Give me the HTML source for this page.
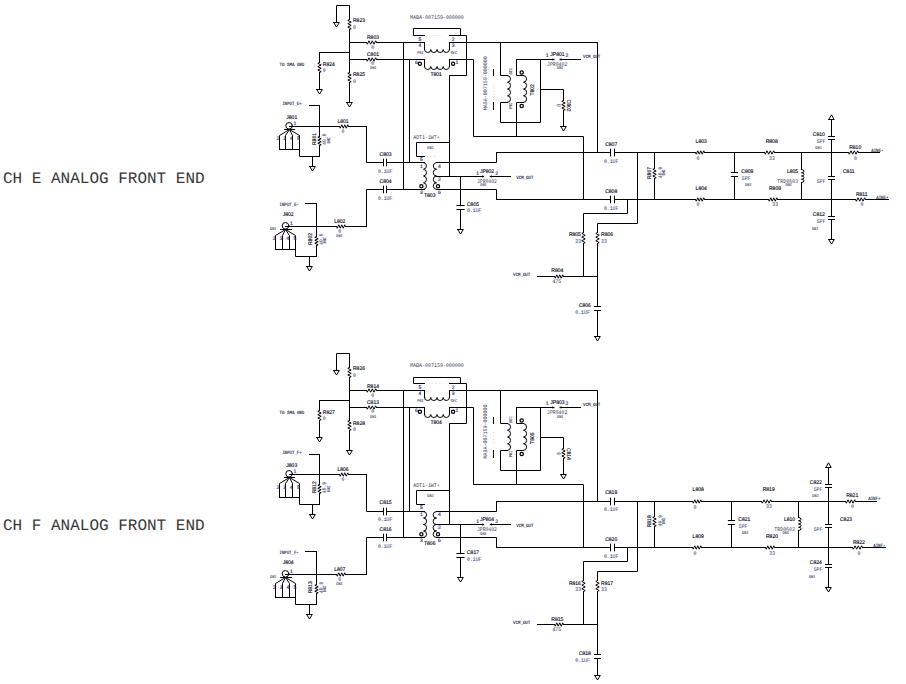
<!DOCTYPE html>
<html><head><meta charset="utf-8"><title>Analog Front End</title>
<style>
html,body{margin:0;padding:0;background:#fff;}
body{width:906px;height:684px;overflow:hidden;font-family:"Liberation Sans",sans-serif;}
svg{display:block;position:absolute;left:0;top:0;}
.w{fill:none;stroke:#000;stroke-width:1.0;stroke-linecap:square;stroke-linejoin:miter;}
.w circle{fill:none;}
.dd{stroke:#aab;stroke-width:0.6;stroke-dasharray:0.8 2.65;stroke-linecap:butt;}
text{font-family:"Liberation Sans",sans-serif;text-rendering:geometricPrecision;}
.lb{font-size:5.4px;fill:#0a0a24;stroke:#0a0a24;stroke-width:0.15px;}
.vl{font-family:"Liberation Mono",monospace;font-size:5.5px;fill:#445080;stroke:#445080;stroke-width:0.08px;}
.pt{font-family:"Liberation Mono",monospace;font-size:5.6px;fill:#3c4258;}
.dn{font-family:"Liberation Mono",monospace;font-size:4.2px;fill:#363c5c;stroke:#363c5c;stroke-width:0.1px;}
.nt{font-family:"Liberation Mono",monospace;font-size:4.7px;fill:#262e50;stroke:#262e50;stroke-width:0.15px;}
.pn{font-size:5.0px;fill:#1a2f78;stroke:#1a2f78;stroke-width:0.15px;}
.ttl{font-family:"Liberation Mono",monospace;font-size:16px;fill:#383838;}
</style></head><body>
<svg width="906" height="684" viewBox="0 0 906 684">
<rect width="906" height="684" fill="#fff"/>
<text x="3" y="183.4" class="ttl" textLength="201.6" lengthAdjust="spacing">CH E ANALOG FRONT END</text>
<text x="3" y="530.4" class="ttl" textLength="201.6" lengthAdjust="spacing">CH F ANALOG FRONT END</text>
<g class="w">
<path d="M336.50 22.50 L336.50 5.50 L349.50 5.50 L349.50 19.50 M333.70 22.50 L339.30 22.50 L336.50 27.00 L333.70 22.50 M349.50 19.50 L347.80 20.33 L351.20 22.00 L347.80 23.67 L351.20 25.33 L347.80 27.00 L351.20 28.67 L349.50 29.50 M349.50 29.50 L349.50 72.50 M349.50 72.50 L347.80 73.33 L351.20 75.00 L347.80 76.67 L351.20 78.33 L347.80 80.00 L351.20 81.67 L349.50 82.50 M349.50 82.50 L349.50 102.50 M346.70 102.50 L352.30 102.50 L349.50 107.00 L346.70 102.50 M349.50 42.50 L366.50 42.50 M366.50 42.50 L367.33 44.20 L369.00 40.80 L370.67 44.20 L372.33 40.80 L374.00 44.20 L375.67 40.80 L376.50 42.50 M376.50 42.50 L424.50 42.50 M319.50 52.50 L349.50 52.50 M319.50 52.50 L319.50 62.50 M319.50 62.50 L317.80 63.33 L321.20 65.00 L317.80 66.67 L321.20 68.33 L317.80 70.00 L321.20 71.67 L319.50 72.50 M319.50 72.50 L319.50 89.50 M316.70 89.50 L322.30 89.50 L319.50 94.00 L316.70 89.50 M349.50 59.50 L366.50 59.50 M366.50 59.50 L367.33 61.20 L369.00 57.80 L370.67 61.20 L372.33 57.80 L374.00 61.20 L375.67 57.80 L376.50 59.50 M376.50 59.50 L424.50 59.50 M309.50 105.50 L319.50 105.50 M319.50 105.50 L319.50 136.50 M319.50 136.50 L317.80 137.25 L321.20 138.75 L317.80 140.25 L321.20 141.75 L317.80 143.25 L321.20 144.75 L319.50 145.50 M319.50 145.50 L319.50 156.50 M289.50 126.50 L339.50 126.50 M339.50 126.50 L340.25 128.20 L341.75 124.80 L343.25 128.20 L344.75 124.80 L346.25 128.20 L347.75 124.80 L348.50 126.50 M348.50 126.50 L366.50 126.50 M284.50 129.50 L294.50 129.50 M289.50 129.50 L279.50 135.50 L279.50 149.50 M289.50 129.50 L285.50 135.50 L285.50 149.50 M289.50 129.50 L292.50 135.50 L292.50 149.50 M289.50 129.50 L299.50 135.50 L299.50 149.50 M279.50 149.50 L299.50 149.50 M299.50 149.50 L299.50 156.50 L319.50 156.50 M312.50 156.50 L312.50 166.50 M309.70 166.50 L315.30 166.50 L312.50 171.00 L309.70 166.50 M305.50 203.50 L316.50 203.50 M316.50 203.50 L316.50 236.50 M316.50 236.50 L314.80 237.25 L318.20 238.75 L314.80 240.25 L318.20 241.75 L314.80 243.25 L318.20 244.75 L316.50 245.50 M316.50 245.50 L316.50 256.50 M285.50 226.50 L336.50 226.50 M336.50 226.50 L337.25 228.20 L338.75 224.80 L340.25 228.20 L341.75 224.80 L343.25 228.20 L344.75 224.80 L345.50 226.50 M345.50 226.50 L366.50 226.50 M280.50 229.50 L291.50 229.50 M285.50 229.50 L275.50 235.50 L275.50 249.50 M285.50 229.50 L282.50 235.50 L282.50 249.50 M285.50 229.50 L289.50 235.50 L289.50 249.50 M285.50 229.50 L295.50 235.50 L295.50 249.50 M275.50 249.50 L295.50 249.50 M295.50 249.50 L295.50 256.50 L316.50 256.50 M309.50 256.50 L309.50 266.50 M306.70 266.50 L312.30 266.50 L309.50 271.00 L306.70 266.50 M366.50 126.50 L366.50 162.50 L383.50 162.50 M383.50 159.20 L383.50 165.80 M386.50 159.20 L386.50 165.80 M386.50 162.50 L424.50 162.50 M366.50 226.50 L366.50 189.50 L383.50 189.50 M383.50 186.20 L383.50 192.80 M386.50 186.20 L386.50 192.80 M386.50 189.50 L424.50 189.50 M403.50 42.50 L403.50 189.50 M409.50 59.50 L409.50 162.50 M424.50 35.50 L413.50 35.50 L413.50 28.50 L460.50 28.50 L460.50 35.50 M449.50 35.50 L466.50 35.50 L466.50 75.50 L449.50 75.50 L449.50 176.50 M424.50 42.50 L424.50 49.50 M424.50 49.50 A3.12 3.00 0 0 0 430.75 49.50 A3.12 3.00 0 0 0 437.00 49.50 A3.12 3.00 0 0 0 443.25 49.50 A3.12 3.00 0 0 0 449.50 49.50 M449.50 49.50 L449.50 42.50 M449.50 42.50 L597.50 42.50 M424.50 59.50 L424.50 66.50 M424.50 66.50 A3.12 3.00 0 0 0 430.75 66.50 A3.12 3.00 0 0 0 437.00 66.50 A3.12 3.00 0 0 0 443.25 66.50 A3.12 3.00 0 0 0 449.50 66.50 M449.50 66.50 L449.50 59.50 M449.50 59.50 L473.50 59.50 L473.50 136.50 L583.50 136.50 L583.50 199.50 M500.50 42.50 L500.50 75.50 L507.50 75.50 M507.50 75.50 A3.20 3.38 0 0 1 507.50 82.25 A3.20 3.38 0 0 1 507.50 89.00 A3.20 3.38 0 0 1 507.50 95.75 A3.20 3.38 0 0 1 507.50 102.50 M507.50 102.50 L500.50 102.50 L500.50 122.50 L540.50 122.50 L540.50 59.50 M516.50 59.50 L553.50 59.50 M560.50 59.50 L580.50 59.50 M553.90 59.50 L552.60 58.90 L552.60 60.10 L553.90 59.50 M560.10 59.50 L561.40 58.90 L561.40 60.10 L560.10 59.50 M516.50 59.50 L516.50 75.50 L523.50 75.50 M523.50 75.50 A3.30 3.38 0 0 1 523.50 82.25 A3.30 3.38 0 0 1 523.50 89.00 A3.30 3.38 0 0 1 523.50 95.75 A3.30 3.38 0 0 1 523.50 102.50 M523.50 102.50 L516.50 102.50 L516.50 136.50 M493.50 69.50 L493.50 75.50 M493.50 102.50 L493.50 109.50 M540.50 89.50 L563.50 89.50 L563.50 100.50 M563.50 100.50 L561.80 101.33 L565.20 103.00 L561.80 104.67 L565.20 106.33 L561.80 108.00 L565.20 109.67 L563.50 110.50 M563.50 110.50 L563.50 126.50 M560.70 126.50 L566.30 126.50 L563.50 131.00 L560.70 126.50 M597.50 42.50 L597.50 152.50 M449.50 142.50 L416.50 142.50 L416.50 156.50 L424.50 156.50 M423.50 162.50 A3.10 3.38 0 0 1 423.50 169.25 A3.10 3.38 0 0 1 423.50 176.00 A3.10 3.38 0 0 1 423.50 182.75 A3.10 3.38 0 0 1 423.50 189.50 M436.50 162.50 A3.40 3.38 0 0 0 436.50 169.25 A3.40 3.38 0 0 0 436.50 176.00 A3.40 3.38 0 0 0 436.50 182.75 A3.40 3.38 0 0 0 436.50 189.50 M436.50 162.50 L496.50 162.50 L496.50 152.50 M436.50 176.50 L483.50 176.50 M490.50 176.50 L510.50 176.50 M483.70 176.50 L482.40 175.90 L482.40 177.10 L483.70 176.50 M490.30 176.50 L491.60 175.90 L491.60 177.10 L490.30 176.50 M436.50 189.50 L496.50 189.50 L496.50 199.50 M460.50 176.50 L460.50 205.50 M456.90 205.50 L464.10 205.50 M456.90 209.50 L464.10 209.50 M460.50 209.50 L460.50 229.50 M457.70 229.50 L463.30 229.50 L460.50 234.00 L457.70 229.50 M496.50 152.50 L610.50 152.50 M610.50 149.20 L610.50 155.80 M614.50 149.20 L614.50 155.80 M614.50 152.50 L695.50 152.50 M695.50 152.50 L696.25 154.20 L697.75 150.80 L699.25 154.20 L700.75 150.80 L702.25 154.20 L703.75 150.80 L704.50 152.50 M704.50 152.50 L764.50 152.50 M764.50 152.50 L765.33 154.20 L767.00 150.80 L768.67 154.20 L770.33 150.80 L772.00 154.20 L773.67 150.80 L774.50 152.50 M774.50 152.50 L848.50 152.50 M848.50 152.50 L849.33 154.20 L851.00 150.80 L852.67 154.20 L854.33 150.80 L856.00 154.20 L857.67 150.80 L858.50 152.50 M858.50 152.50 L879.50 152.50 M496.50 199.50 L610.50 199.50 M610.50 196.20 L610.50 202.80 M614.50 196.20 L614.50 202.80 M614.50 199.50 L695.50 199.50 M695.50 199.50 L696.25 201.20 L697.75 197.80 L699.25 201.20 L700.75 197.80 L702.25 201.20 L703.75 197.80 L704.50 199.50 M704.50 199.50 L768.50 199.50 M768.50 199.50 L769.25 201.20 L770.75 197.80 L772.25 201.20 L773.75 197.80 L775.25 201.20 L776.75 197.80 L777.50 199.50 M777.50 199.50 L855.50 199.50 M855.50 199.50 L856.33 201.20 L858.00 197.80 L859.67 201.20 L861.33 197.80 L863.00 201.20 L864.67 197.80 L865.50 199.50 M865.50 199.50 L888.50 199.50 M637.50 152.50 L637.50 223.50 L597.50 223.50 L597.50 232.50 M597.50 232.50 L595.80 233.42 L599.20 235.25 L595.80 237.08 L599.20 238.92 L595.80 240.75 L599.20 242.58 L597.50 243.50 M597.50 243.50 L597.50 306.50 M594.50 306.50 L600.50 306.50 M594.50 310.50 L600.50 310.50 M597.50 310.50 L597.50 336.50 M594.70 336.50 L600.30 336.50 L597.50 341.00 L594.70 336.50 M627.50 199.50 L627.50 213.50 L583.50 213.50 L583.50 232.50 M583.50 232.50 L581.80 233.42 L585.20 235.25 L581.80 237.08 L585.20 238.92 L581.80 240.75 L585.20 242.58 L583.50 243.50 M583.50 243.50 L583.50 276.50 M537.50 276.50 L554.50 276.50 M554.50 276.50 L555.25 278.20 L556.75 274.80 L558.25 278.20 L559.75 274.80 L561.25 278.20 L562.75 274.80 L563.50 276.50 M563.50 276.50 L597.50 276.50 M654.50 152.50 L654.50 168.50 M654.50 168.50 L652.80 169.33 L656.20 171.00 L652.80 172.67 L656.20 174.33 L652.80 176.00 L656.20 177.67 L654.50 178.50 M654.50 178.50 L654.50 199.50 M734.50 152.50 L734.50 172.50 M731.40 172.50 L737.60 172.50 M731.40 176.50 L737.60 176.50 M734.50 176.50 L734.50 199.50 M801.50 152.50 L801.50 169.50 M801.50 169.50 A2.50 1.62 0 0 1 801.50 172.75 A2.50 1.62 0 0 1 801.50 176.00 A2.50 1.62 0 0 1 801.50 179.25 A2.50 1.62 0 0 1 801.50 182.50 M801.50 182.50 L801.50 199.50 M828.80 119.50 L834.20 119.50 L831.50 114.80 L828.80 119.50 M831.50 119.50 L831.50 136.50 M828.50 136.50 L834.50 136.50 M828.50 139.50 L834.50 139.50 M831.50 139.50 L831.50 176.50 M828.50 176.50 L834.50 176.50 M828.50 179.50 L834.50 179.50 M831.50 179.50 L831.50 216.50 M828.50 216.50 L834.50 216.50 M828.50 219.50 L834.50 219.50 M831.50 219.50 L831.50 239.50 M828.70 239.50 L834.30 239.50 L831.50 244.00 L828.70 239.50"/>
<circle cx="289.10" cy="125.80" r="3.30" stroke-width="1.00"/>
<circle cx="285.50" cy="225.80" r="3.30" stroke-width="1.00"/>
<line x1="432.60" y1="35.50" x2="441.00" y2="35.50" class="dd"/>
<circle cx="419.90" cy="63.80" r="1.60" stroke-width="1.25"/>
<circle cx="453.10" cy="63.80" r="1.60" stroke-width="1.25"/>
<circle cx="521.70" cy="72.50" r="1.65" stroke-width="1.25"/>
<circle cx="521.70" cy="105.90" r="1.65" stroke-width="1.25"/>
<line x1="493.60" y1="84.00" x2="493.60" y2="95.00" class="dd"/>
<line x1="427.10" y1="156.50" x2="435.20" y2="156.50" class="dd"/>
<circle cx="421.40" cy="186.30" r="1.60" stroke-width="1.25"/>
<circle cx="438.00" cy="186.30" r="1.60" stroke-width="1.25"/>
</g>
<g>
<text transform="translate(353.00 22.00) scale(0.930 1)" class="lb">R823</text>
<text transform="translate(353.00 28.90) scale(0.880 1)" class="vl">0</text>
<text transform="translate(367.00 39.20) scale(0.930 1)" class="lb">R803</text>
<text transform="translate(371.30 48.60) scale(0.880 1)" class="vl">0</text>
<text transform="translate(367.00 55.70) scale(0.930 1)" class="lb">C801</text>
<text transform="translate(371.30 65.10) scale(0.880 1)" class="vl">0</text>
<text transform="translate(370.00 69.20) scale(0.870 1)" class="dn">DNI</text>
<text transform="translate(322.80 66.00) scale(0.930 1)" class="lb">R824</text>
<text transform="translate(322.80 71.80) scale(0.880 1)" class="vl">0</text>
<text transform="translate(353.00 76.30) scale(0.930 1)" class="lb">R825</text>
<text transform="translate(353.00 82.90) scale(0.880 1)" class="vl">0</text>
<text transform="translate(279.50 65.90) scale(0.883 1)" class="nt">TO SMA GND</text>
<text transform="translate(282.40 105.20) scale(0.855 1)" class="nt">INPUT_E+</text>
<text transform="translate(286.30 118.90) scale(0.930 1)" class="lb">J801</text>
<text transform="translate(293.50 124.60)" class="pn">1</text>
<text transform="translate(276.40 140.30)" class="pn">2</text>
<text transform="translate(283.30 140.30)" class="pn">3</text>
<text transform="translate(290.00 140.30)" class="pn">4</text>
<text transform="translate(297.00 140.30)" class="pn">5</text>
<text transform="translate(316.00 145.00) rotate(-90) scale(0.930 1)" class="lb">R801</text>
<text transform="translate(326.40 144.90) rotate(-90) scale(0.880 1)" class="vl">49.9</text>
<text transform="translate(329.60 143.60) rotate(-90) scale(0.870 1)" class="dn">DNI</text>
<text transform="translate(337.50 123.00) scale(0.930 1)" class="lb">L801</text>
<text transform="translate(341.50 132.70) scale(0.880 1)" class="vl">0</text>
<text transform="translate(282.70 216.00) scale(0.930 1)" class="lb">J802</text>
<text transform="translate(289.90 224.60)" class="pn">1</text>
<text transform="translate(272.80 240.30)" class="pn">2</text>
<text transform="translate(279.70 240.30)" class="pn">3</text>
<text transform="translate(286.40 240.30)" class="pn">4</text>
<text transform="translate(293.40 240.30)" class="pn">5</text>
<text transform="translate(312.40 245.00) rotate(-90) scale(0.930 1)" class="lb">R802</text>
<text transform="translate(322.80 244.90) rotate(-90) scale(0.880 1)" class="vl">49.9</text>
<text transform="translate(326.00 243.60) rotate(-90) scale(0.870 1)" class="dn">DNI</text>
<text transform="translate(334.20 223.00) scale(0.930 1)" class="lb">L802</text>
<text transform="translate(338.20 232.70) scale(0.880 1)" class="vl">0</text>
<text transform="translate(270.00 230.00) scale(0.870 1)" class="dn">DNI</text>
<text transform="translate(336.20 236.60) scale(0.870 1)" class="dn">DNI</text>
<text transform="translate(279.50 205.90) scale(0.855 1)" class="nt">INPUT_E-</text>
<text transform="translate(379.60 155.80) scale(0.930 1)" class="lb">C803</text>
<text transform="translate(377.90 173.00) scale(0.880 1)" class="vl">0.1UF</text>
<text transform="translate(379.60 183.00) scale(0.930 1)" class="lb">C804</text>
<text transform="translate(377.90 200.10) scale(0.880 1)" class="vl">0.1UF</text>
<text transform="translate(409.90 19.00) scale(0.893 1)" class="pt">MABA-007159-000000</text>
<text transform="translate(418.60 40.90)" class="pn">5</text>
<text transform="translate(418.60 46.80)" class="pn">4</text>
<text transform="translate(451.80 40.90)" class="pn">2</text>
<text transform="translate(451.80 46.80)" class="pn">3</text>
<text transform="translate(417.20 53.90) scale(0.870 1)" class="dn">PRI</text>
<text transform="translate(450.60 53.90) scale(0.870 1)" class="dn">SEC</text>
<text transform="translate(414.90 63.60)" class="pn">6</text>
<text transform="translate(455.60 63.60)" class="pn">1</text>
<text transform="translate(430.40 75.60) scale(0.930 1)" class="lb">T801</text>
<text transform="translate(487.00 110.20) rotate(-90) scale(0.893 1)" class="pt">MABA-007159-000000</text>
<text transform="translate(512.40 74.60) rotate(-90) scale(0.870 1)" class="dn">SEC</text>
<text transform="translate(512.40 108.80) rotate(-90) scale(0.870 1)" class="dn">PRI</text>
<text transform="translate(534.00 95.60) rotate(-90) scale(0.930 1)" class="lb">T802</text>
<text transform="translate(545.80 56.80)" class="pn">1</text>
<text transform="translate(550.30 55.80) scale(0.930 1)" class="lb">JP801</text>
<text transform="translate(565.40 56.80)" class="pn">2</text>
<text transform="translate(547.00 66.00) scale(0.863 1)" class="pt">JPR0402</text>
<text transform="translate(557.00 69.40) scale(0.870 1)" class="dn">DNI</text>
<text transform="translate(583.00 58.00) scale(0.881 1)" class="nt">VCM_OUT</text>
<text transform="translate(567.20 99.60) rotate(90) scale(0.930 1)" class="lb">C802</text>
<text transform="translate(557.40 104.00) rotate(90) scale(0.880 1)" class="vl">0</text>
<text transform="translate(413.20 139.00) scale(0.876 1)" class="pt">ADT1-1WT+</text>
<text transform="translate(427.30 149.00) scale(0.870 1)" class="dn">DNI</text>
<text transform="translate(419.90 160.80)" class="pn">5</text>
<text transform="translate(419.90 167.80)" class="pn">1</text>
<text transform="translate(438.00 167.80)" class="pn">4</text>
<text transform="translate(438.00 181.00)" class="pn">2</text>
<text transform="translate(419.90 193.90)" class="pn">3</text>
<text transform="translate(438.00 193.90)" class="pn">6</text>
<text transform="translate(424.00 197.00) scale(0.930 1)" class="lb">T803</text>
<text transform="translate(476.20 174.60)" class="pn">1</text>
<text transform="translate(479.90 173.00) scale(0.930 1)" class="lb">JP802</text>
<text transform="translate(495.20 174.60)" class="pn">2</text>
<text transform="translate(477.00 182.80) scale(0.842 1)" class="pt">JPR0402</text>
<text transform="translate(480.20 186.40) scale(0.870 1)" class="dn">DNI</text>
<text transform="translate(516.20 178.90) scale(0.881 1)" class="nt">VCM_OUT</text>
<text transform="translate(467.00 205.90) scale(0.930 1)" class="lb">C805</text>
<text transform="translate(467.00 212.40) scale(0.880 1)" class="vl">0.1UF</text>
<text transform="translate(605.20 145.90) scale(0.930 1)" class="lb">C807</text>
<text transform="translate(603.90 162.80) scale(0.880 1)" class="vl">0.1UF</text>
<text transform="translate(605.20 193.10) scale(0.930 1)" class="lb">C808</text>
<text transform="translate(603.90 210.00) scale(0.880 1)" class="vl">0.1UF</text>
<text transform="translate(651.00 179.00) rotate(-90) scale(0.930 1)" class="lb">R807</text>
<text transform="translate(661.60 178.20) rotate(-90) scale(0.880 1)" class="vl">49.9</text>
<text transform="translate(665.00 175.60) rotate(-90) scale(0.870 1)" class="dn">DNI</text>
<text transform="translate(695.60 143.10) scale(0.930 1)" class="lb">L803</text>
<text transform="translate(696.60 160.20) scale(0.880 1)" class="vl">0</text>
<text transform="translate(695.60 190.10) scale(0.930 1)" class="lb">L804</text>
<text transform="translate(696.60 206.30) scale(0.880 1)" class="vl">0</text>
<text transform="translate(741.30 173.10) scale(0.930 1)" class="lb">C809</text>
<text transform="translate(741.80 179.90) scale(0.880 1)" class="vl">5PF</text>
<text transform="translate(745.10 186.00) scale(0.870 1)" class="dn">DNI</text>
<text transform="translate(765.70 142.80) scale(0.930 1)" class="lb">R808</text>
<text transform="translate(769.10 160.00) scale(0.880 1)" class="vl">33</text>
<text transform="translate(769.00 189.90) scale(0.930 1)" class="lb">R809</text>
<text transform="translate(772.30 206.20) scale(0.880 1)" class="vl">33</text>
<text transform="translate(786.90 173.10) scale(0.930 1)" class="lb">L805</text>
<text transform="translate(777.30 182.90) scale(0.880 1)" class="pt">TRD0603</text>
<text transform="translate(785.50 186.00) scale(0.870 1)" class="dn">DNI</text>
<text transform="translate(812.80 136.10) scale(0.930 1)" class="lb">C810</text>
<text transform="translate(816.70 142.80) scale(0.880 1)" class="vl">5PF</text>
<text transform="translate(815.30 148.90) scale(0.870 1)" class="dn">DNI</text>
<text transform="translate(843.00 172.90) scale(0.930 1)" class="lb">C811</text>
<text transform="translate(816.70 182.90) scale(0.880 1)" class="vl">5PF</text>
<text transform="translate(812.80 216.00) scale(0.930 1)" class="lb">C812</text>
<text transform="translate(816.70 222.50) scale(0.880 1)" class="vl">5PF</text>
<text transform="translate(811.90 229.60) scale(0.870 1)" class="dn">DNI</text>
<text transform="translate(849.20 148.70) scale(0.930 1)" class="lb">R810</text>
<text transform="translate(853.90 160.00) scale(0.880 1)" class="vl">0</text>
<text transform="translate(855.90 195.90) scale(0.930 1)" class="lb">R811</text>
<text transform="translate(860.50 206.20) scale(0.880 1)" class="vl">0</text>
<text transform="translate(871.20 152.00) scale(0.865 1)" class="nt">AINE-</text>
<text transform="translate(876.30 199.00) scale(0.851 1)" class="nt">AINE+</text>
<text transform="translate(568.90 236.20) scale(0.930 1)" class="lb">R805</text>
<text transform="translate(575.30 242.70) scale(0.880 1)" class="vl">33</text>
<text transform="translate(601.10 236.20) scale(0.930 1)" class="lb">R806</text>
<text transform="translate(601.10 242.70) scale(0.880 1)" class="vl">33</text>
<text transform="translate(551.30 272.30) scale(0.930 1)" class="lb">R804</text>
<text transform="translate(552.40 283.00) scale(0.880 1)" class="vl">475</text>
<text transform="translate(513.10 276.00) scale(0.871 1)" class="nt">VCM_OUT</text>
<text transform="translate(578.90 306.80) scale(0.930 1)" class="lb">C806</text>
<text transform="translate(575.30 313.50) scale(0.880 1)" class="vl">0.1UF</text>
</g>
<g transform="translate(0 348.0)">
<g class="w">
<path d="M336.50 22.50 L336.50 5.50 L349.50 5.50 L349.50 19.50 M333.70 22.50 L339.30 22.50 L336.50 27.00 L333.70 22.50 M349.50 19.50 L347.80 20.33 L351.20 22.00 L347.80 23.67 L351.20 25.33 L347.80 27.00 L351.20 28.67 L349.50 29.50 M349.50 29.50 L349.50 72.50 M349.50 72.50 L347.80 73.33 L351.20 75.00 L347.80 76.67 L351.20 78.33 L347.80 80.00 L351.20 81.67 L349.50 82.50 M349.50 82.50 L349.50 102.50 M346.70 102.50 L352.30 102.50 L349.50 107.00 L346.70 102.50 M349.50 42.50 L366.50 42.50 M366.50 42.50 L367.33 44.20 L369.00 40.80 L370.67 44.20 L372.33 40.80 L374.00 44.20 L375.67 40.80 L376.50 42.50 M376.50 42.50 L424.50 42.50 M319.50 52.50 L349.50 52.50 M319.50 52.50 L319.50 62.50 M319.50 62.50 L317.80 63.33 L321.20 65.00 L317.80 66.67 L321.20 68.33 L317.80 70.00 L321.20 71.67 L319.50 72.50 M319.50 72.50 L319.50 89.50 M316.70 89.50 L322.30 89.50 L319.50 94.00 L316.70 89.50 M349.50 59.50 L366.50 59.50 M366.50 59.50 L367.33 61.20 L369.00 57.80 L370.67 61.20 L372.33 57.80 L374.00 61.20 L375.67 57.80 L376.50 59.50 M376.50 59.50 L424.50 59.50 M309.50 106.50 L319.50 106.50 M319.50 106.50 L319.50 136.50 M319.50 136.50 L317.80 137.25 L321.20 138.75 L317.80 140.25 L321.20 141.75 L317.80 143.25 L321.20 144.75 L319.50 145.50 M319.50 145.50 L319.50 156.50 M289.50 126.50 L339.50 126.50 M339.50 126.50 L340.25 128.20 L341.75 124.80 L343.25 128.20 L344.75 124.80 L346.25 128.20 L347.75 124.80 L348.50 126.50 M348.50 126.50 L366.50 126.50 M284.50 129.50 L294.50 129.50 M289.50 129.50 L279.50 135.50 L279.50 149.50 M289.50 129.50 L285.50 135.50 L285.50 149.50 M289.50 129.50 L292.50 135.50 L292.50 149.50 M289.50 129.50 L299.50 135.50 L299.50 149.50 M279.50 149.50 L299.50 149.50 M299.50 149.50 L299.50 156.50 L319.50 156.50 M312.50 156.50 L312.50 166.50 M309.70 166.50 L315.30 166.50 L312.50 171.00 L309.70 166.50 M305.50 203.50 L316.50 203.50 M316.50 203.50 L316.50 236.50 M316.50 236.50 L314.80 237.25 L318.20 238.75 L314.80 240.25 L318.20 241.75 L314.80 243.25 L318.20 244.75 L316.50 245.50 M316.50 245.50 L316.50 256.50 M285.50 226.50 L336.50 226.50 M336.50 226.50 L337.25 228.20 L338.75 224.80 L340.25 228.20 L341.75 224.80 L343.25 228.20 L344.75 224.80 L345.50 226.50 M345.50 226.50 L366.50 226.50 M280.50 229.50 L291.50 229.50 M285.50 229.50 L275.50 235.50 L275.50 249.50 M285.50 229.50 L282.50 235.50 L282.50 249.50 M285.50 229.50 L289.50 235.50 L289.50 249.50 M285.50 229.50 L295.50 235.50 L295.50 249.50 M275.50 249.50 L295.50 249.50 M295.50 249.50 L295.50 256.50 L316.50 256.50 M309.50 256.50 L309.50 266.50 M306.70 266.50 L312.30 266.50 L309.50 271.00 L306.70 266.50 M366.50 126.50 L366.50 163.50 L383.50 163.50 M383.50 160.20 L383.50 166.80 M386.50 160.20 L386.50 166.80 M386.50 163.50 L424.50 163.50 M366.50 226.50 L366.50 189.50 L383.50 189.50 M383.50 186.20 L383.50 192.80 M386.50 186.20 L386.50 192.80 M386.50 189.50 L424.50 189.50 M403.50 42.50 L403.50 189.50 M409.50 59.50 L409.50 163.50 M424.50 35.50 L413.50 35.50 L413.50 29.50 L460.50 29.50 L460.50 35.50 M449.50 35.50 L466.50 35.50 L466.50 75.50 L449.50 75.50 L449.50 176.50 M424.50 42.50 L424.50 49.50 M424.50 49.50 A3.12 3.00 0 0 0 430.75 49.50 A3.12 3.00 0 0 0 437.00 49.50 A3.12 3.00 0 0 0 443.25 49.50 A3.12 3.00 0 0 0 449.50 49.50 M449.50 49.50 L449.50 42.50 M449.50 42.50 L597.50 42.50 M424.50 59.50 L424.50 66.50 M424.50 66.50 A3.12 3.00 0 0 0 430.75 66.50 A3.12 3.00 0 0 0 437.00 66.50 A3.12 3.00 0 0 0 443.25 66.50 A3.12 3.00 0 0 0 449.50 66.50 M449.50 66.50 L449.50 59.50 M449.50 59.50 L473.50 59.50 L473.50 136.50 L583.50 136.50 L583.50 199.50 M500.50 42.50 L500.50 75.50 L507.50 75.50 M507.50 75.50 A3.20 3.38 0 0 1 507.50 82.25 A3.20 3.38 0 0 1 507.50 89.00 A3.20 3.38 0 0 1 507.50 95.75 A3.20 3.38 0 0 1 507.50 102.50 M507.50 102.50 L500.50 102.50 L500.50 122.50 L540.50 122.50 L540.50 59.50 M516.50 59.50 L553.50 59.50 M560.50 59.50 L580.50 59.50 M553.90 59.50 L552.60 58.90 L552.60 60.10 L553.90 59.50 M560.10 59.50 L561.40 58.90 L561.40 60.10 L560.10 59.50 M516.50 59.50 L516.50 75.50 L523.50 75.50 M523.50 75.50 A3.30 3.38 0 0 1 523.50 82.25 A3.30 3.38 0 0 1 523.50 89.00 A3.30 3.38 0 0 1 523.50 95.75 A3.30 3.38 0 0 1 523.50 102.50 M523.50 102.50 L516.50 102.50 L516.50 136.50 M493.50 69.50 L493.50 75.50 M493.50 102.50 L493.50 109.50 M540.50 89.50 L563.50 89.50 L563.50 100.50 M563.50 100.50 L561.80 101.33 L565.20 103.00 L561.80 104.67 L565.20 106.33 L561.80 108.00 L565.20 109.67 L563.50 110.50 M563.50 110.50 L563.50 126.50 M560.70 126.50 L566.30 126.50 L563.50 131.00 L560.70 126.50 M597.50 42.50 L597.50 153.50 M449.50 142.50 L416.50 142.50 L416.50 156.50 L424.50 156.50 M423.50 163.50 A3.10 3.25 0 0 1 423.50 170.00 A3.10 3.25 0 0 1 423.50 176.50 A3.10 3.25 0 0 1 423.50 183.00 A3.10 3.25 0 0 1 423.50 189.50 M436.50 163.50 A3.40 3.25 0 0 0 436.50 170.00 A3.40 3.25 0 0 0 436.50 176.50 A3.40 3.25 0 0 0 436.50 183.00 A3.40 3.25 0 0 0 436.50 189.50 M436.50 163.50 L496.50 163.50 L496.50 153.50 M436.50 176.50 L483.50 176.50 M490.50 176.50 L510.50 176.50 M483.70 176.50 L482.40 175.90 L482.40 177.10 L483.70 176.50 M490.30 176.50 L491.60 175.90 L491.60 177.10 L490.30 176.50 M436.50 189.50 L496.50 189.50 L496.50 199.50 M460.50 176.50 L460.50 205.50 M456.90 205.50 L464.10 205.50 M456.90 209.50 L464.10 209.50 M460.50 209.50 L460.50 229.50 M457.70 229.50 L463.30 229.50 L460.50 234.00 L457.70 229.50 M496.50 153.50 L610.50 153.50 M610.50 150.20 L610.50 156.80 M614.50 150.20 L614.50 156.80 M614.50 153.50 L692.50 153.50 M692.50 153.50 L693.25 155.20 L694.75 151.80 L696.25 155.20 L697.75 151.80 L699.25 155.20 L700.75 151.80 L701.50 153.50 M701.50 153.50 L761.50 153.50 M761.50 153.50 L762.33 155.20 L764.00 151.80 L765.67 155.20 L767.33 151.80 L769.00 155.20 L770.67 151.80 L771.50 153.50 M771.50 153.50 L845.50 153.50 M845.50 153.50 L846.33 155.20 L848.00 151.80 L849.67 155.20 L851.33 151.80 L853.00 155.20 L854.67 151.80 L855.50 153.50 M855.50 153.50 L876.50 153.50 M496.50 199.50 L610.50 199.50 M610.50 196.20 L610.50 202.80 M614.50 196.20 L614.50 202.80 M614.50 199.50 L692.50 199.50 M692.50 199.50 L693.25 201.20 L694.75 197.80 L696.25 201.20 L697.75 197.80 L699.25 201.20 L700.75 197.80 L701.50 199.50 M701.50 199.50 L765.50 199.50 M765.50 199.50 L766.25 201.20 L767.75 197.80 L769.25 201.20 L770.75 197.80 L772.25 201.20 L773.75 197.80 L774.50 199.50 M774.50 199.50 L852.50 199.50 M852.50 199.50 L853.33 201.20 L855.00 197.80 L856.67 201.20 L858.33 197.80 L860.00 201.20 L861.67 197.80 L862.50 199.50 M862.50 199.50 L885.50 199.50 M637.50 153.50 L637.50 223.50 L597.50 223.50 L597.50 232.50 M597.50 232.50 L595.80 233.42 L599.20 235.25 L595.80 237.08 L599.20 238.92 L595.80 240.75 L599.20 242.58 L597.50 243.50 M597.50 243.50 L597.50 306.50 M594.50 306.50 L600.50 306.50 M594.50 310.50 L600.50 310.50 M597.50 310.50 L597.50 327.50 M594.70 327.50 L600.30 327.50 L597.50 332.00 L594.70 327.50 M627.50 199.50 L627.50 213.50 L583.50 213.50 L583.50 232.50 M583.50 232.50 L581.80 233.42 L585.20 235.25 L581.80 237.08 L585.20 238.92 L581.80 240.75 L585.20 242.58 L583.50 243.50 M583.50 243.50 L583.50 276.50 M537.50 276.50 L554.50 276.50 M554.50 276.50 L555.25 278.20 L556.75 274.80 L558.25 278.20 L559.75 274.80 L561.25 278.20 L562.75 274.80 L563.50 276.50 M563.50 276.50 L597.50 276.50 M654.50 153.50 L654.50 168.50 M654.50 168.50 L652.80 169.33 L656.20 171.00 L652.80 172.67 L656.20 174.33 L652.80 176.00 L656.20 177.67 L654.50 178.50 M654.50 178.50 L654.50 199.50 M731.50 153.50 L731.50 172.50 M728.40 172.50 L734.60 172.50 M728.40 176.50 L734.60 176.50 M731.50 176.50 L731.50 199.50 M798.50 153.50 L798.50 169.50 M798.50 169.50 A2.50 1.62 0 0 1 798.50 172.75 A2.50 1.62 0 0 1 798.50 176.00 A2.50 1.62 0 0 1 798.50 179.25 A2.50 1.62 0 0 1 798.50 182.50 M798.50 182.50 L798.50 199.50 M825.80 119.50 L831.20 119.50 L828.50 114.80 L825.80 119.50 M828.50 119.50 L828.50 136.50 M825.50 136.50 L831.50 136.50 M825.50 139.50 L831.50 139.50 M828.50 139.50 L828.50 176.50 M825.50 176.50 L831.50 176.50 M825.50 179.50 L831.50 179.50 M828.50 179.50 L828.50 216.50 M825.50 216.50 L831.50 216.50 M825.50 219.50 L831.50 219.50 M828.50 219.50 L828.50 239.50 M825.70 239.50 L831.30 239.50 L828.50 244.00 L825.70 239.50"/>
<circle cx="289.10" cy="125.80" r="3.30" stroke-width="1.00"/>
<circle cx="285.50" cy="225.80" r="3.30" stroke-width="1.00"/>
<line x1="432.60" y1="35.50" x2="441.00" y2="35.50" class="dd"/>
<circle cx="419.90" cy="63.80" r="1.60" stroke-width="1.25"/>
<circle cx="453.10" cy="63.80" r="1.60" stroke-width="1.25"/>
<circle cx="521.70" cy="72.50" r="1.65" stroke-width="1.25"/>
<circle cx="521.70" cy="105.90" r="1.65" stroke-width="1.25"/>
<line x1="493.60" y1="84.00" x2="493.60" y2="95.00" class="dd"/>
<line x1="427.10" y1="156.50" x2="435.20" y2="156.50" class="dd"/>
<circle cx="421.40" cy="186.30" r="1.60" stroke-width="1.25"/>
<circle cx="438.00" cy="186.30" r="1.60" stroke-width="1.25"/>
</g>
<g transform="translate(0 0.3)">
<text transform="translate(353.00 22.00) scale(0.930 1)" class="lb">R826</text>
<text transform="translate(353.00 28.90) scale(0.880 1)" class="vl">0</text>
<text transform="translate(367.00 39.20) scale(0.930 1)" class="lb">R814</text>
<text transform="translate(371.30 48.60) scale(0.880 1)" class="vl">0</text>
<text transform="translate(367.00 55.70) scale(0.930 1)" class="lb">C813</text>
<text transform="translate(371.30 65.10) scale(0.880 1)" class="vl">0</text>
<text transform="translate(370.00 69.20) scale(0.870 1)" class="dn">DNI</text>
<text transform="translate(322.80 66.00) scale(0.930 1)" class="lb">R827</text>
<text transform="translate(322.80 71.80) scale(0.880 1)" class="vl">0</text>
<text transform="translate(353.00 76.30) scale(0.930 1)" class="lb">R828</text>
<text transform="translate(353.00 82.90) scale(0.880 1)" class="vl">0</text>
<text transform="translate(279.50 65.90) scale(0.883 1)" class="nt">TO SMA GND</text>
<text transform="translate(282.40 105.20) scale(0.855 1)" class="nt">INPUT_F+</text>
<text transform="translate(286.30 118.90) scale(0.930 1)" class="lb">J803</text>
<text transform="translate(293.50 124.60)" class="pn">1</text>
<text transform="translate(276.40 140.30)" class="pn">2</text>
<text transform="translate(283.30 140.30)" class="pn">3</text>
<text transform="translate(290.00 140.30)" class="pn">4</text>
<text transform="translate(297.00 140.30)" class="pn">5</text>
<text transform="translate(316.00 145.00) rotate(-90) scale(0.930 1)" class="lb">R812</text>
<text transform="translate(326.40 144.90) rotate(-90) scale(0.880 1)" class="vl">49.9</text>
<text transform="translate(329.60 143.60) rotate(-90) scale(0.870 1)" class="dn">DNI</text>
<text transform="translate(337.50 123.00) scale(0.930 1)" class="lb">L806</text>
<text transform="translate(341.50 132.70) scale(0.880 1)" class="vl">0</text>
<text transform="translate(282.70 216.00) scale(0.930 1)" class="lb">J804</text>
<text transform="translate(289.90 224.60)" class="pn">1</text>
<text transform="translate(272.80 240.30)" class="pn">2</text>
<text transform="translate(279.70 240.30)" class="pn">3</text>
<text transform="translate(286.40 240.30)" class="pn">4</text>
<text transform="translate(293.40 240.30)" class="pn">5</text>
<text transform="translate(312.40 245.00) rotate(-90) scale(0.930 1)" class="lb">R813</text>
<text transform="translate(322.80 244.90) rotate(-90) scale(0.880 1)" class="vl">49.9</text>
<text transform="translate(326.00 243.60) rotate(-90) scale(0.870 1)" class="dn">DNI</text>
<text transform="translate(334.20 223.00) scale(0.930 1)" class="lb">L807</text>
<text transform="translate(338.20 232.70) scale(0.880 1)" class="vl">0</text>
<text transform="translate(270.00 230.00) scale(0.870 1)" class="dn">DNI</text>
<text transform="translate(336.20 236.60) scale(0.870 1)" class="dn">DNI</text>
<text transform="translate(279.50 205.90) scale(0.855 1)" class="nt">INPUT_F-</text>
<text transform="translate(379.60 155.80) scale(0.930 1)" class="lb">C815</text>
<text transform="translate(377.90 173.00) scale(0.880 1)" class="vl">0.1UF</text>
<text transform="translate(379.60 183.00) scale(0.930 1)" class="lb">C816</text>
<text transform="translate(377.90 200.10) scale(0.880 1)" class="vl">0.1UF</text>
<text transform="translate(409.90 19.00) scale(0.893 1)" class="pt">MABA-007159-000000</text>
<text transform="translate(418.60 40.90)" class="pn">5</text>
<text transform="translate(418.60 46.80)" class="pn">4</text>
<text transform="translate(451.80 40.90)" class="pn">2</text>
<text transform="translate(451.80 46.80)" class="pn">3</text>
<text transform="translate(417.20 53.90) scale(0.870 1)" class="dn">PRI</text>
<text transform="translate(450.60 53.90) scale(0.870 1)" class="dn">SEC</text>
<text transform="translate(414.90 63.60)" class="pn">6</text>
<text transform="translate(455.60 63.60)" class="pn">1</text>
<text transform="translate(430.40 75.60) scale(0.930 1)" class="lb">T804</text>
<text transform="translate(487.00 110.20) rotate(-90) scale(0.893 1)" class="pt">MABA-007159-000000</text>
<text transform="translate(512.40 74.60) rotate(-90) scale(0.870 1)" class="dn">SEC</text>
<text transform="translate(512.40 108.80) rotate(-90) scale(0.870 1)" class="dn">PRI</text>
<text transform="translate(534.00 95.60) rotate(-90) scale(0.930 1)" class="lb">T805</text>
<text transform="translate(545.80 56.80)" class="pn">1</text>
<text transform="translate(550.30 55.80) scale(0.930 1)" class="lb">JP803</text>
<text transform="translate(565.40 56.80)" class="pn">2</text>
<text transform="translate(547.00 66.00) scale(0.863 1)" class="pt">JPR0402</text>
<text transform="translate(557.00 69.40) scale(0.870 1)" class="dn">DNI</text>
<text transform="translate(583.00 58.00) scale(0.881 1)" class="nt">VCM_OUT</text>
<text transform="translate(567.20 99.60) rotate(90) scale(0.930 1)" class="lb">C814</text>
<text transform="translate(557.40 104.00) rotate(90) scale(0.880 1)" class="vl">0</text>
<text transform="translate(413.20 139.00) scale(0.876 1)" class="pt">ADT1-1WT+</text>
<text transform="translate(427.30 149.00) scale(0.870 1)" class="dn">DNI</text>
<text transform="translate(419.90 160.80)" class="pn">5</text>
<text transform="translate(419.90 167.80)" class="pn">1</text>
<text transform="translate(438.00 167.80)" class="pn">4</text>
<text transform="translate(438.00 181.00)" class="pn">2</text>
<text transform="translate(419.90 193.90)" class="pn">3</text>
<text transform="translate(438.00 193.90)" class="pn">6</text>
<text transform="translate(424.00 197.00) scale(0.930 1)" class="lb">T806</text>
<text transform="translate(476.20 174.60)" class="pn">1</text>
<text transform="translate(479.90 173.00) scale(0.930 1)" class="lb">JP804</text>
<text transform="translate(495.20 174.60)" class="pn">2</text>
<text transform="translate(477.00 182.80) scale(0.842 1)" class="pt">JPR0402</text>
<text transform="translate(480.20 186.40) scale(0.870 1)" class="dn">DNI</text>
<text transform="translate(516.20 178.90) scale(0.881 1)" class="nt">VCM_OUT</text>
<text transform="translate(467.00 205.90) scale(0.930 1)" class="lb">C817</text>
<text transform="translate(467.00 212.40) scale(0.880 1)" class="vl">0.1UF</text>
<text transform="translate(605.20 145.90) scale(0.930 1)" class="lb">C819</text>
<text transform="translate(603.90 162.80) scale(0.880 1)" class="vl">0.1UF</text>
<text transform="translate(605.20 193.10) scale(0.930 1)" class="lb">C820</text>
<text transform="translate(603.90 210.00) scale(0.880 1)" class="vl">0.1UF</text>
<text transform="translate(651.00 179.00) rotate(-90) scale(0.930 1)" class="lb">R818</text>
<text transform="translate(661.60 178.20) rotate(-90) scale(0.880 1)" class="vl">49.9</text>
<text transform="translate(665.00 175.60) rotate(-90) scale(0.870 1)" class="dn">DNI</text>
<text transform="translate(692.60 143.10) scale(0.930 1)" class="lb">L808</text>
<text transform="translate(693.60 160.20) scale(0.880 1)" class="vl">0</text>
<text transform="translate(692.60 190.10) scale(0.930 1)" class="lb">L809</text>
<text transform="translate(693.60 206.30) scale(0.880 1)" class="vl">0</text>
<text transform="translate(738.30 173.10) scale(0.930 1)" class="lb">C821</text>
<text transform="translate(738.80 179.90) scale(0.880 1)" class="vl">5PF</text>
<text transform="translate(742.10 186.00) scale(0.870 1)" class="dn">DNI</text>
<text transform="translate(762.70 142.80) scale(0.930 1)" class="lb">R819</text>
<text transform="translate(766.10 160.00) scale(0.880 1)" class="vl">33</text>
<text transform="translate(766.00 189.90) scale(0.930 1)" class="lb">R820</text>
<text transform="translate(769.30 206.20) scale(0.880 1)" class="vl">33</text>
<text transform="translate(783.90 173.10) scale(0.930 1)" class="lb">L810</text>
<text transform="translate(774.30 182.90) scale(0.880 1)" class="pt">TRD0603</text>
<text transform="translate(782.50 186.00) scale(0.870 1)" class="dn">DNI</text>
<text transform="translate(809.80 136.10) scale(0.930 1)" class="lb">C822</text>
<text transform="translate(813.70 142.80) scale(0.880 1)" class="vl">5PF</text>
<text transform="translate(812.30 148.90) scale(0.870 1)" class="dn">DNI</text>
<text transform="translate(840.00 172.90) scale(0.930 1)" class="lb">C823</text>
<text transform="translate(813.70 182.90) scale(0.880 1)" class="vl">5PF</text>
<text transform="translate(809.80 216.00) scale(0.930 1)" class="lb">C824</text>
<text transform="translate(813.70 222.50) scale(0.880 1)" class="vl">5PF</text>
<text transform="translate(808.90 229.60) scale(0.870 1)" class="dn">DNI</text>
<text transform="translate(846.20 148.70) scale(0.930 1)" class="lb">R821</text>
<text transform="translate(850.90 160.00) scale(0.880 1)" class="vl">0</text>
<text transform="translate(852.90 195.90) scale(0.930 1)" class="lb">R822</text>
<text transform="translate(857.50 206.20) scale(0.880 1)" class="vl">0</text>
<text transform="translate(868.20 152.00) scale(0.865 1)" class="nt">AINF+</text>
<text transform="translate(873.30 199.00) scale(0.851 1)" class="nt">AINF-</text>
<text transform="translate(568.90 236.20) scale(0.930 1)" class="lb">R816</text>
<text transform="translate(575.30 242.70) scale(0.880 1)" class="vl">33</text>
<text transform="translate(601.10 236.20) scale(0.930 1)" class="lb">R817</text>
<text transform="translate(601.10 242.70) scale(0.880 1)" class="vl">33</text>
<text transform="translate(551.30 272.30) scale(0.930 1)" class="lb">R815</text>
<text transform="translate(552.40 283.00) scale(0.880 1)" class="vl">475</text>
<text transform="translate(513.10 276.00) scale(0.871 1)" class="nt">VCM_OUT</text>
<text transform="translate(578.90 306.80) scale(0.930 1)" class="lb">C818</text>
<text transform="translate(575.30 313.50) scale(0.880 1)" class="vl">0.1UF</text>
</g>
</g>
</svg>
</body></html>
